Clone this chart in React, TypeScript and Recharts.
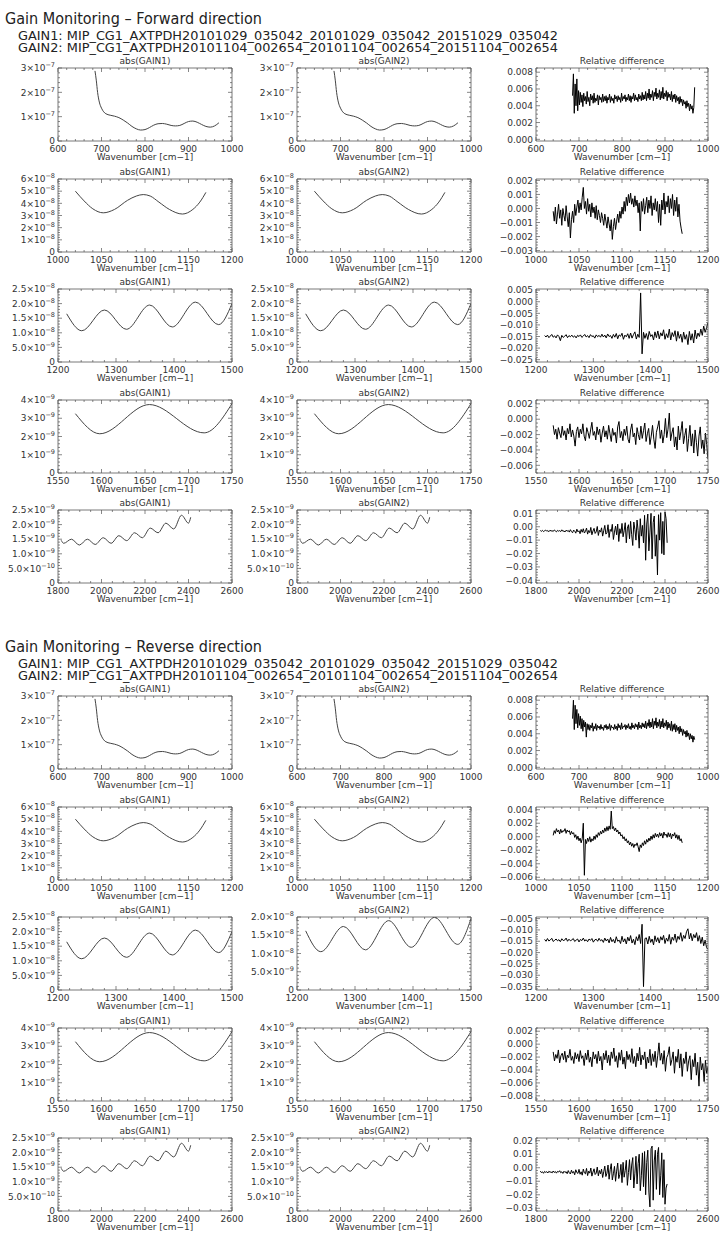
import React from 'react';
import { LineChart, Line, XAxis, YAxis } from 'recharts';

const FONT = '"DejaVu Sans", sans-serif';
const INK = '#333';
const FRAME = '#555';

// header texts
const directionTitles = ['Gain Monitoring – Forward direction', 'Gain Monitoring – Reverse direction'];
const gain1File = 'MIP_CG1_AXTPDH20101029_035042_20101029_035042_20151029_035042';
const gain2File = 'MIP_CG1_AXTPDH20101104_002654_20101104_002654_20151104_002654';

// wavenumber bands (one row each)
const bandDomains: [number, number][] = [[600, 1000], [1000, 1200], [1200, 1500], [1550, 1750], [1800, 2600]];
const bandTicks = [
  [600, 700, 800, 900, 1000],
  [1000, 1050, 1100, 1150, 1200],
  [1200, 1300, 1400, 1500],
  [1550, 1600, 1650, 1700, 1750],
  [1800, 2000, 2200, 2400, 2600],
];
const bandMinorStep = [20, 10, 20, 10, 50];

// abs(GAIN) curves, values in absUnit (GAIN1 and GAIN2 are indistinguishable at this scale)
const absUnit = [1e-7, 1e-8, 1e-8, 1e-9, 1e-9];
const absX1 = [685, 688, 691, 695, 700, 705, 710, 720, 730, 740, 750, 760, 770, 780, 790, 800, 810, 820, 830, 840, 850, 860, 870, 880, 890, 900, 910, 920, 930, 940, 950, 960, 970];
const absY1 = [2.88, 2.5, 2.0, 1.6, 1.35, 1.2, 1.12, 1.06, 1.02, 0.96, 0.86, 0.74, 0.6, 0.5, 0.45, 0.47, 0.55, 0.65, 0.71, 0.72, 0.69, 0.64, 0.62, 0.64, 0.72, 0.8, 0.82, 0.77, 0.68, 0.6, 0.57, 0.62, 0.75];
const absX2 = [1020, 1030, 1040, 1052, 1065, 1080, 1090, 1098, 1106, 1116, 1128, 1143, 1155, 1163, 1170];
const absY2 = [5.0, 4.2, 3.55, 3.22, 3.5, 4.25, 4.6, 4.72, 4.6, 4.1, 3.5, 3.12, 3.5, 4.1, 4.9];
const absX3 = [1215, 1241, 1280, 1318, 1358, 1397, 1437, 1477, 1500];
const absY3 = [1.65, 1.07, 1.78, 1.12, 1.95, 1.2, 2.05, 1.28, 2.0];
const revGain2Y3 = [1.62, 1.05, 1.74, 1.1, 1.9, 1.17, 1.99, 1.25, 1.95];
const absX4 = [1570, 1598, 1655, 1718, 1750];
const absY4 = [3.25, 2.15, 3.75, 2.2, 3.8];
const absX5 = [1815, 1826, 1862, 1898, 1935, 1971, 2008, 2044, 2080, 2116, 2152, 2188, 2224, 2260, 2296, 2332, 2368, 2400, 2410];
const absY5 = [1.46, 1.36, 1.5, 1.3, 1.5, 1.32, 1.55, 1.36, 1.62, 1.45, 1.72, 1.55, 1.88, 1.72, 2.05, 1.85, 2.32, 2.05, 2.25];
const absXs = [absX1, absX2, absX3, absX4, absX5];
const absYs = [absY1, absY2, absY3, absY4, absY5];

const absDomain: [number, number][] = [[0, 3e-7], [0, 6e-8], [0, 2.5e-8], [0, 4e-9], [0, 2.5e-9]];
const absTicks = [
  [0, 1e-7, 2e-7, 3e-7],
  [0, 1e-8, 2e-8, 3e-8, 4e-8, 5e-8, 6e-8],
  [0, 5e-9, 1e-8, 1.5e-8, 2e-8, 2.5e-8],
  [0, 1e-9, 2e-9, 3e-9, 4e-9],
  [0, 5e-10, 1e-9, 1.5e-9, 2e-9, 2.5e-9],
];
const absMinor = [2e-8, 2e-9, 1e-9, 2e-10, 1e-10];
const absDecimals = [0, 0, 1, 0, 1];
const revGain2Ticks3 = [0, 5e-9, 1e-8, 1.5e-8, 2e-8];

// relative difference on a regular wavenumber grid, values in units of 1e-4
const REL_UNIT = 1e-4;
const relStart = [685, 1020, 1215, 1570, 1820];
const relStep = [2, 1.25, 2.5, 1.5, 5];

const fwdRel1 = [
  52, 78, 31, 66, 40, 72, 34, 58,
  41, 56, 44, 53, 39, 55, 46, 51, 42, 57, 45, 50, 40, 54, 47, 52, 43, 55, 44, 49, 46, 53, 41, 52, 47, 50, 44, 54, 45, 51,
  46, 52, 43, 50, 47, 54, 44, 51, 46, 49, 43, 53, 48, 51, 45, 52, 47, 50, 44, 55, 46, 51, 48, 53, 45, 50, 47, 54, 46, 52, 44, 51, 48, 55, 46, 53, 47, 50, 45, 54, 48, 52, 46, 56, 47,
  53, 48, 57, 46, 55, 49, 60, 47, 54, 50, 58, 46, 56, 51, 61, 48, 55, 50, 59, 47, 57, 49, 62, 48, 55, 51, 58, 46, 56, 50, 54, 47, 57, 45, 53,
  48, 54, 44, 52, 46, 50, 42, 51, 44, 48, 40, 47, 42, 45, 37, 46, 39, 43, 34, 42, 36, 40, 31, 38, 62,
];
const fwdRel2 = [
  -2, -9, 1, -11, -4, 3, -7, -1, -12, 0, -5, -9, 2, -6, -13, -3, -21, -8, -2, -10,
  3, -5, 1, 6, -3, 4, -1, 8, 15, 0, 5, -4, 7, -2, 3, -6, 4, -3, 1, -7,
  2, -8, -1, -5, -10, -3, -7, -12, -4, -9, -14, -6, -11, -16, -8, -22, -13, -7, -15, -9,
  -4, -10, -2, -7, 1, -4, 5, -2, 8, 2, 10, 4, 11, 3, 7, 1, 9, 2, 6, -3,
  4, -16, 5, -2, 7, -4, 2, 8, -3, 6, 0, 9, -5, 4, -1, 7, -2, 5, -10, 3,
  -12, 6, -1, 11, -4, 5, 1, 9, -3, 7, 0, 10, -5, 6, -2, 8, -6, 3, -9, -14, -18,
];
const fwdRel3 = [
  -146, -152, -144, -155, -148, -141, -153, -147, -156, -143, -150, -168, -145, -154, -149, -142, -155, -146, -151, -144,
  -153, -147, -156, -145, -150, -143, -154, -148, -141, -152, -146, -155, -142, -150, -147, -157, -143, -151, -145, -153,
  -140, -152, -144, -156, -139, -150, -146, -158, -141, -153, -137, -160, -143, -149, -136, -162, -144, -151, -138, -158,
  -135, -157, -142, -130, -161, -140, -154, 38, -225, -132, -158, -137, -163, -128, -150, -142, -165, -130, -155, -126,
  -160, -134, -148, -121, -162, -138, -155, -118, -165, -133, -150, -125, -170, -128, -158, -140, -175, -131, -162, -142,
  -185, -128, -166, -138, -178, -122, -160, -135, -150, -118, -145, -105, -132, -112, -90,
];
const fwdRel4 = [
  -8, -20, -13, -26, -11, -18, -24, -9, -21, -15, -27, -12, -19, -6, -23, -14, -22, -35, -16, -10,
  -24, -13, -19, -6, -22, -28, -11, -17, -25, -14, -4, -21, -16, -27, -10, -20, -13, -30, -18, -9,
  -23, -15, -26, -8, -19, -29, -12, -21, -17, -31, -10, -3, -24, -16, -28, -13, -21, -9, -26, -31,
  -14, -6, -23, -18, -33, -11, -20, -27, -9, -25, -15, -5, -29, -19, -12, -33, -22, -8, -26, -38,
  -17, -10, -2, -25, -14, -31, -20, 1, -24, -13, 8, -28, -18, -11, -36, -23, -40, -9, -27, -16,
  -3, -32, -21, -12, -42, -25, -8, -35, -19, -44, -14, -30, -48, -22, -10, -38, -27, -45, -18, -33, -52,
];
const fwdRel5 = [
  -28, -34, -27, -36, -30, -25, -33, -29, -37, -26, -32, -30, -35, -24, -31, -38, -27, -33, -29, -36, -23, -34, -31, -39, -26, -33, -28,
  -40, -22, -36, -45, -25, -33, -48, -18, -38, -30, -52, -20, -41, -15, -47, -35, -10, -55, -28, -44, -5, -60, -32, -12, -50, -38, 2, -65, -25, -40,
  -8, -70, -30, 10, -55, -45, 15, -80, -20, -35, 18, -95, -40, 5, -60, 20, -110, -15, -50, 25,
  -75, -30, 30, -120, -10, 15, -90, 40, -60, -140, 35, -20, -100, 50, -30, -160, 60, -70, 10, -120,
  85, -250, 20, 95, -180, -40, 100, -240, 30, 80, -220, -60, -360, 90, -100, 105, -200, 40, -210, 110, 60, -120,
];

const revRel1 = [
  58, 80, 45, 74, 52, 69, 47, 64,
  50, 61, 46, 58, 43, 56, 48, 54, 36, 52, 45, 51, 44, 50, 47, 53, 43, 49, 46, 52, 44, 50, 47, 49, 45, 51, 46, 48, 44, 50,
  47, 51, 45, 49, 46, 52, 44, 50, 47, 48, 45, 51, 46, 49, 44, 52, 47, 50, 45, 53, 46, 49, 48, 51, 45, 50, 47, 52, 46, 49, 45, 53, 47, 50, 46, 52, 48, 51, 45, 54, 47, 50, 46, 53, 48,
  52, 47, 55, 46, 53, 49, 57, 47, 54, 48, 58, 46, 55, 50, 59, 47, 54, 49, 57, 46, 55, 48, 58, 47, 53, 49, 56, 45, 54, 47, 52, 44, 55, 43, 51,
  45, 52, 42, 50, 44, 48, 40, 49, 42, 46, 38, 45, 40, 43, 36, 44, 37, 41, 33, 40, 34, 38, 30, 37, 33,
];
const revRel2 = [
  2, 9, 5, 12, 7, 10, 4, 11, 6, 9, 8, 12, 5, 10, 7, 9, 3, 8, 4, 6,
  -1, 3, -4, 1, -6, -2, -9, -3, 20, -57, -4, -10, -2, -7, 0, -8, -3, -6, 1, -4,
  3, -1, 6, 2, 8, 4, 10, 6, 13, 8, 15, 9, 16, 11, 38, 12, 15, 9, 13, 7,
  10, 4, 7, 1, 3, -3, 0, -6, -3, -9, -6, -12, -8, -14, -10, -16, -11, -13, -9, -15,
  -22, -12, -16, -9, -13, -6, -11, -4, -8, -2, -6, 1, -4, 3, -2, 5, 0, 4, -1, 6,
  1, 5, -2, 7, 2, 4, -1, 6, 0, 5, -3, 4, 1, 6, -2, 3, -4, 2, -6, -3, -9,
];
const revRel3 = [
  -142, -150, -138, -149, -144, -137, -151, -146, -140, -148, -143, -152, -139, -147, -145, -136, -150, -141, -148, -144,
  -138, -151, -145, -140, -153, -142, -147, -136, -149, -143, -152, -140, -146, -138, -154, -144, -141, -150, -137, -148,
  -143, -155, -136, -149, -140, -157, -133, -152, -142, -158, -130, -150, -145, -160, -128, -153, -139, -162, -132, -149,
  -125, -158, -141, -165, -130, -148, -120, -160, -75, -350, -138, -135, -162, -128, -155, -140, -166, -126, -152, -134,
  -158, -130, -145, -124, -160, -136, -150, -120, -163, -132, -146, -118, -155, -128, -142, -112, -150, -124, -138, -108,
  -95, -140, -115, -148, -120, -135, -112, -150, -125, -160, -132, -170, -145, -178, -185,
];
const revRel4 = [
  -12, -26, -16, -22, -9, -29, -18, -14, -24, -11, -28, -17, -21, -8, -25, -19, -30, -13, -23, -15,
  -27, -10, -22, -18, -33, -14, -24, -9, -28, -20, -35, -12, -23, -16, -30, -11, -26, -19, -40, -14,
  -24, -10, -29, -17, -33, -12, -22, -6, -27, -18, -36, -13, -25, -9, -31, -20, -38, -11, -24, -16,
  -28, -7, -30, -19, -35, -14, -26, -5, -32, -17, -24, -12, -38, -20, -29, -8, -33, -15, -27, -11,
  -36, -18, 2, -25, -14, -31, -10, -42, -21, -16, -4, -33, -24, -12, -45, -19, -28, -8, -37, -15,
  -50, -22, -30, -12, -42, -26, -18, -55, -24, -35, -14, -48, -28, -65, -20, -40, -30, -58, -25, -45, -35,
];
const revRel5 = [
  -25, -36, -30, -41, -27, -34, -29, -39, -26, -33, -31, -38, -24, -35, -28, -40, -27, -32, -22, -37, -30, -42, -26, -35, -29, -44, -21,
  -38, -46, -18, -40, -28, -52, -15, -36, -42, -12, -48, -30, -55, -10, -38, -45, -5, -58, -25, -40, -2, -62, -32, -8, -50, -40, 5, -60, -20, -45,
  -10, -72, -30, 12, -65, -40, 20, -85, -15, 30, -90, -45, 10, -100, -25, 35, -80, -50, 25, -110,
  40, -70, -20, 55, -130, -35, 60, -90, 20, 75, -150, -40, 85, -120, 30, 100, -170, -60, 110, -140,
  120, -200, 40, 130, -180, -290, 140, 160, -240, 50, 130, -160, 100, 150, -200, -60, 110, -220, 60, -270, -150, -120,
];

const fwdRels = [fwdRel1, fwdRel2, fwdRel3, fwdRel4, fwdRel5];
const revRels = [revRel1, revRel2, revRel3, revRel4, revRel5];

const fwdRelTicks = [
  [0, 0.002, 0.004, 0.006, 0.008],
  [-0.003, -0.002, -0.001, 0, 0.001, 0.002],
  [-0.025, -0.02, -0.015, -0.01, -0.005, 0, 0.005],
  [-0.006, -0.004, -0.002, 0, 0.002],
  [-0.04, -0.03, -0.02, -0.01, 0, 0.01],
];
const fwdRelDomain: [number, number][] = [[-0.0002, 0.0085], [-0.0031, 0.0021], [-0.026, 0.0055], [-0.007, 0.0025], [-0.042, 0.0125]];
const fwdRelMinor = [0.0005, 0.0002, 0.001, 0.0005, 0.002];
const revRelTicks = [
  [0, 0.002, 0.004, 0.006, 0.008],
  [-0.006, -0.004, -0.002, 0, 0.002, 0.004],
  [-0.035, -0.03, -0.025, -0.02, -0.015, -0.01, -0.005],
  [-0.008, -0.006, -0.004, -0.002, 0, 0.002],
  [-0.03, -0.02, -0.01, 0, 0.01, 0.02],
];
const revRelDomain: [number, number][] = [[-0.0002, 0.0085], [-0.0064, 0.0044], [-0.0365, -0.0043], [-0.0088, 0.0025], [-0.032, 0.022]];
const revRelMinor = [0.0005, 0.0005, 0.001, 0.0005, 0.002];
const relDecimals = [3, 3, 3, 3, 2];

// page layout
const colLeft = [58, 297, 536];
const colWidth = [174, 174, 172];
const rowTop = [68, 178.5, 289, 399.5, 510];
const plotHeight = 73;
const REV_OFFSET = 628;

const minorTicks = (domain: [number, number], step: number) => {
  const out: number[] = [];
  const first = Math.ceil(domain[0] / step - 1e-6);
  const last = Math.floor(domain[1] / step + 1e-6);
  for (let k = first; k <= last; k++) out.push(k * step);
  return out;
};

const sciLabel = (dec: number) => (v: number): React.ReactNode => {
  if (v === 0) return '0';
  const e = Math.floor(Math.log10(Math.abs(v)) + 1e-9);
  const m = v / Math.pow(10, e);
  return (
    <>
      {m.toFixed(dec)}×10
      <tspan dy={-4} fontSize={6.5}>{'−' + Math.abs(e)}</tspan>
    </>
  );
};

const fixedLabel = (dec: number) => (v: number): React.ReactNode =>
  (v < 0 ? '−' : '') + Math.abs(v).toFixed(dec);

const AxisTick = (props: any) => {
  const { x = 0, y = 0, payload, side, majors, tol, fmt } = props;
  const v = payload ? payload.value : 0;
  const major = (majors as number[]).find((m) => Math.abs(m - v) < tol);
  const isMajor = major !== undefined;
  const len = isMajor ? 4 : 2;
  const dx = side === 'left' ? len : side === 'right' ? -len : 0;
  const dy = side === 'bottom' ? -len : side === 'top' ? len : 0;
  const textStyle = { fontFamily: FONT, fontSize: 9, fill: INK };
  return (
    <g>
      <line x1={x} y1={y} x2={x + dx} y2={y + dy} stroke={FRAME} strokeWidth={0.7} />
      {isMajor && fmt && side === 'bottom' && (
        <text x={x} y={y + 11} textAnchor="middle" style={textStyle}>{fmt(major)}</text>
      )}
      {isMajor && fmt && side === 'left' && (
        <text x={x - 3} y={y + 3.2} textAnchor="end" style={textStyle}>{fmt(major)}</text>
      )}
    </g>
  );
};

type PanelProps = {
  left: number;
  top: number;
  width: number;
  points: { x: number; v: number }[];
  band: number;
  yDomain: [number, number];
  yTicks: number[];
  yMinor: number;
  fmt: (v: number) => React.ReactNode;
  title: string;
  relative: boolean;
};

const Panel = ({ left, top, width, points, band, yDomain, yTicks, yMinor, fmt, title, relative }: PanelProps) => {
  const L = 60, R = 14, T = 10, B = 16;
  const xDomain = bandDomains[band];
  const xAll = minorTicks(xDomain, bandMinorStep[band]);
  const yAll = minorTicks(yDomain, yMinor);
  const xTol = bandMinorStep[band] * 0.01;
  const yTol = yMinor * 0.01;
  const axisLine = { stroke: FRAME, strokeWidth: 0.8 };
  const common = { tickLine: false, tickSize: 0, tickMargin: 0, interval: 0 as const, allowDataOverflow: true, axisLine };
  const labelStyle: React.CSSProperties = {
    position: 'absolute', left, width, textAlign: 'center', fontFamily: FONT,
    fontSize: 9, lineHeight: '10px', color: INK, whiteSpace: 'nowrap',
  };
  return (
    <>
      <div style={{ ...labelStyle, top: top - 12 }}>{title}</div>
      <div style={{ position: 'absolute', left: left - L, top: top - T }}>
        <LineChart width={width + L + R} height={plotHeight + T + B} data={points} margin={{ top: 0, right: 0, bottom: 0, left: 0 }}>
          <XAxis xAxisId="b" orientation="bottom" dataKey="x" type="number" domain={xDomain} ticks={xAll} height={B} {...common}
            tick={(p: any) => <AxisTick {...p} side="bottom" majors={bandTicks[band]} tol={xTol} fmt={(v: number) => String(v)} />} />
          <XAxis xAxisId="t" orientation="top" dataKey="x" type="number" domain={xDomain} ticks={xAll} height={T} {...common}
            tick={(p: any) => <AxisTick {...p} side="top" majors={bandTicks[band]} tol={xTol} />} />
          <YAxis yAxisId="l" orientation="left" type="number" domain={yDomain} ticks={yAll} width={L} {...common}
            tick={(p: any) => <AxisTick {...p} side="left" majors={yTicks} tol={yTol} fmt={fmt} />} />
          <YAxis yAxisId="r" orientation="right" type="number" domain={yDomain} ticks={yAll} width={R} {...common}
            tick={(p: any) => <AxisTick {...p} side="right" majors={yTicks} tol={yTol} />} />
          <Line xAxisId="b" yAxisId="l" dataKey="v" type={relative ? 'linear' : 'monotone'} dot={false} activeDot={false}
            stroke={relative ? '#000' : '#444'} strokeWidth={relative ? 1 : 1} isAnimationActive={false} />
        </LineChart>
      </div>
      <div style={{ ...labelStyle, top: top + plotHeight + 11 }}>Wavenumber [cm−1]</div>
    </>
  );
};

const Header = ({ top, title }: { top: number; title: string }) => (
  <svg style={{ position: 'absolute', left: 0, top }} width={722} height={60}>
    <text x={5} y={23.5} fontSize={15} fill="#222" textLength={257} lengthAdjust="spacingAndGlyphs" style={{ fontFamily: FONT }}>{title}</text>
    <text x={18} y={39.8} fontSize={12} fill="#222" textLength={540} lengthAdjust="spacingAndGlyphs" style={{ fontFamily: FONT }}>{'GAIN1: ' + gain1File}</text>
    <text x={18} y={51.8} fontSize={12} fill="#222" textLength={540} lengthAdjust="spacingAndGlyphs" style={{ fontFamily: FONT }}>{'GAIN2: ' + gain2File}</text>
  </svg>
);

export default function App() {
  const panels: React.ReactNode[] = [];
  [0, 1].forEach((dir) => {
    const off = dir * REV_OFFSET;
    const rels = dir === 0 ? fwdRels : revRels;
    const relTicks = dir === 0 ? fwdRelTicks : revRelTicks;
    const relDomain = dir === 0 ? fwdRelDomain : revRelDomain;
    const relMinor = dir === 0 ? fwdRelMinor : revRelMinor;
    for (let b = 0; b < 5; b++) {
      const top = rowTop[b] + off;
      const gain1 = absXs[b].map((x, i) => ({ x, v: absYs[b][i] * absUnit[b] }));
      const g2Y = dir === 1 && b === 2 ? revGain2Y3 : absYs[b];
      const gain2 = absXs[b].map((x, i) => ({ x, v: g2Y[i] * absUnit[b] }));
      const g2Ticks = dir === 1 && b === 2 ? revGain2Ticks3 : absTicks[b];
      const g2Domain: [number, number] = dir === 1 && b === 2 ? [0, 2e-8] : absDomain[b];
      const rel = rels[b].map((v, i) => ({ x: relStart[b] + i * relStep[b], v: v * REL_UNIT }));
      panels.push(
        <Panel key={`${dir}-${b}-1`} left={colLeft[0]} top={top} width={colWidth[0]} points={gain1} band={b}
          yDomain={absDomain[b]} yTicks={absTicks[b]} yMinor={absMinor[b]} fmt={sciLabel(absDecimals[b])} title="abs(GAIN1)" relative={false} />,
        <Panel key={`${dir}-${b}-2`} left={colLeft[1]} top={top} width={colWidth[1]} points={gain2} band={b}
          yDomain={g2Domain} yTicks={g2Ticks} yMinor={absMinor[b]} fmt={sciLabel(absDecimals[b])} title="abs(GAIN2)" relative={false} />,
        <Panel key={`${dir}-${b}-3`} left={colLeft[2]} top={top} width={colWidth[2]} points={rel} band={b}
          yDomain={relDomain[b]} yTicks={relTicks[b]} yMinor={relMinor[b]} fmt={fixedLabel(relDecimals[b])} title="Relative difference" relative />,
      );
    }
  });
  return (
    <div style={{ position: 'absolute', left: 0, top: 0, width: 722, height: 1233, background: '#fff', overflow: 'hidden' }}>
      <Header top={0} title={directionTitles[0]} />
      <Header top={REV_OFFSET} title={directionTitles[1]} />
      {panels}
    </div>
  );
}
